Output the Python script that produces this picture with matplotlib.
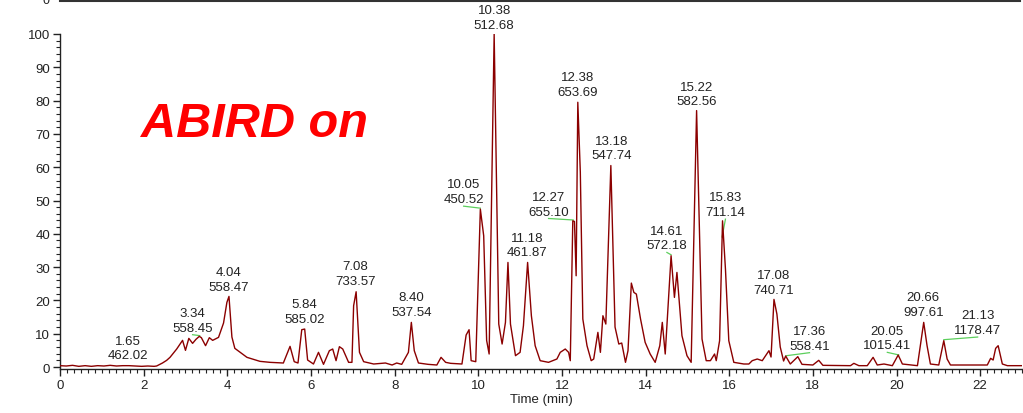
import matplotlib
matplotlib.use("Agg")
import matplotlib.pyplot as plt
from matplotlib.ticker import MultipleLocator
from matplotlib.lines import Line2D
import numpy as np

plt.rcParams["font.family"] = ["Liberation Sans", "DejaVu Sans"]

# chromatogram trace (time in min, relative abundance)
time = [0.00, 0.15, 0.30, 0.45, 0.60, 0.75, 0.90, 1.05, 1.20, 1.35, 1.50, 1.65, 1.80, 1.95,
        2.10, 2.25, 2.31, 2.45, 2.55, 2.63, 2.79, 2.93, 3.00, 3.08, 3.17, 3.25, 3.33, 3.38,
        3.48, 3.57, 3.65, 3.79, 3.91, 3.99, 4.04, 4.11, 4.18, 4.47, 4.78, 5.02, 5.34, 5.50,
        5.60, 5.69, 5.78, 5.85, 5.92, 6.06, 6.18, 6.30, 6.44, 6.52, 6.60, 6.68, 6.76, 6.90,
        6.98, 7.02, 7.08, 7.16, 7.26, 7.50, 7.78, 7.94, 8.05, 8.17, 8.33, 8.40, 8.47, 8.57,
        8.80, 9.01, 9.11, 9.22, 9.34, 9.61, 9.71, 9.78, 9.83, 9.94, 10.05, 10.13, 10.20, 10.26,
        10.38, 10.49, 10.57, 10.65, 10.71, 10.77, 10.89, 11.00, 11.08, 11.18, 11.27, 11.36,
        11.48, 11.68, 11.88, 11.96, 12.08, 12.16, 12.20, 12.26, 12.30, 12.34, 12.38, 12.44,
        12.50, 12.60, 12.70, 12.76, 12.86, 12.92, 12.98, 13.05, 13.17, 13.27, 13.36, 13.43,
        13.52, 13.58, 13.66, 13.72, 13.78, 13.88, 13.99, 14.11, 14.23, 14.34, 14.40, 14.47,
        14.61, 14.69, 14.75, 14.87, 14.99, 15.09, 15.22, 15.35, 15.45, 15.55, 15.65, 15.69,
        15.77, 15.84, 15.91, 15.99, 16.11, 16.35, 16.47, 16.55, 16.67, 16.79, 16.95, 17.00,
        17.07, 17.14, 17.22, 17.30, 17.35, 17.46, 17.64, 17.74, 18.00, 18.14, 18.24, 18.90,
        18.98, 19.10, 19.30, 19.44, 19.54, 19.70, 19.90, 20.04, 20.14, 20.50, 20.65, 20.73,
        20.81, 21.01, 21.13, 21.21, 21.29, 22.17, 22.25, 22.31, 22.37, 22.43, 22.53, 22.65,
        23.00]
intensity = [0.4, 0.3, 0.5, 0.2, 0.4, 0.2, 0.4, 0.3, 0.5, 0.3, 0.4, 0.4, 0.3, 0.2,
             0.3, 0.2, 0.3, 1.2, 2.0, 2.9, 5.4, 8.0, 5.0, 8.6, 7.1, 8.3, 9.2, 8.8,
             6.4, 8.8, 8.0, 8.9, 13.2, 19.4, 21.2, 9.0, 5.6, 2.9, 1.7, 1.4, 1.2, 6.2,
             1.6, 1.2, 11.2, 11.4, 2.1, 0.9, 4.4, 0.8, 4.9, 5.4, 1.9, 6.1, 5.4, 1.4,
             1.4, 18.4, 22.6, 4.4, 1.6, 0.9, 1.2, 0.6, 1.2, 0.8, 4.4, 13.4, 4.9, 1.2,
             0.8, 0.6, 2.9, 1.4, 1.1, 0.9, 9.6, 11.2, 1.9, 1.6, 47.4, 39.4, 8.0, 3.9,
             100.0, 12.9, 6.9, 13.4, 31.4, 12.9, 3.4, 4.4, 12.4, 31.4, 15.4, 6.4,
             1.9, 1.4, 2.4, 4.4, 5.4, 4.4, 1.9, 43.9, 43.7, 27.4, 79.5, 58.5,
             14.4, 6.4, 1.9, 2.4, 10.4, 4.4, 15.4, 12.9, 60.5, 12.0, 6.9, 7.2,
             1.4, 4.9, 25.2, 22.4, 21.9, 14.4, 7.4, 3.9, 1.4, 6.4, 13.4, 3.9,
             33.4, 20.9, 28.4, 9.4, 3.4, 1.4, 77.0, 8.4, 1.9, 1.9, 3.9, 1.9,
             7.9, 43.9, 29.4, 7.9, 1.4, 0.9, 0.9, 1.9, 2.4, 1.9, 4.9, 3.0,
             20.3, 15.9, 6.0, 1.8, 3.3, 0.9, 3.1, 0.8, 0.6, 2.0, 0.5, 0.4,
             1.1, 0.4, 0.4, 2.9, 0.6, 0.9, 0.4, 3.6, 0.9, 0.4, 13.4, 6.4,
             0.9, 0.6, 7.9, 2.4, 0.6, 0.6, 2.6, 2.1, 5.6, 6.4, 0.9, 0.4,
             0.4]

# peak annotations: retention time and m/z
peak_rt = ["1.65", "3.34", "4.04", "5.84", "7.08", "8.40", "10.05", "10.38", "11.18", "12.27",
           "12.38", "13.18", "14.61", "15.22", "15.83", "17.08", "17.36", "20.05", "20.66", "21.13"]
peak_mz = ["462.02", "558.45", "558.47", "585.02", "733.57", "537.54", "450.52", "512.68",
           "461.87", "655.10", "653.69", "547.74", "572.18", "582.56", "711.14", "740.71",
           "558.41", "1015.41", "997.61", "1178.47"]

# where each label text sits (layout), and whether it gets a leader line
label_x = [1.63, 3.17, 4.04, 5.84, 7.06, 8.40, 9.65, 10.38, 11.17, 11.68,
           12.38, 13.18, 14.51, 15.22, 15.91, 17.06, 17.92, 19.78, 20.64, 21.94]
label_y = [5.7, 14.0, 26.3, 16.7, 28.0, 18.7, 52.6, 105.0, 36.6, 48.9,
           84.9, 65.8, 38.7, 82.0, 48.7, 25.4, 8.6, 8.7, 18.7, 13.3]
leader = [False, True, False, False, False, False, True, False, False, True,
          False, False, True, False, True, False, True, True, False, True]

fig = plt.figure(figsize=(10.23, 4.14), dpi=100)
ax = fig.add_axes([60 / 1023, 44 / 414, 962 / 1023, 335 / 414])

ax.plot(time, intensity, color="#8b0000", lw=1.0, zorder=3)

for rt, mz, lx, ly, ld in zip(peak_rt, peak_mz, label_x, label_y, leader):
    ax.text(lx, ly, f"{rt}\n{mz}", ha="center", va="center", fontsize=9.5,
            linespacing=1.3, color="#222222", clip_on=False, zorder=4)
    if ld:
        t = float(rt)
        apex = np.interp(t, time, intensity)
        ax.plot([lx, t], [ly - 4.3, apex + 0.3], color="#5ccf5c", lw=0.9,
                clip_on=False, zorder=2)

ax.text(0.202, 0.732, "ABIRD on", transform=ax.transAxes, color="red",
        fontsize=35, fontweight="bold", fontstyle="italic", ha="center", va="center")

ax.set_xlim(0, 23)
ax.set_ylim(-0.6, 100)
ax.xaxis.set_major_locator(MultipleLocator(2))
ax.xaxis.set_minor_locator(MultipleLocator(2 / 12))
ax.yaxis.set_major_locator(MultipleLocator(10))
ax.yaxis.set_minor_locator(MultipleLocator(2))
ax.tick_params(axis="both", which="major", length=5, width=1, labelsize=9.5, colors="#222222", pad=2)
ax.tick_params(axis="both", which="minor", length=3, width=0.8, colors="#222222")
ax.set_xlabel("Time (min)", fontsize=9.5, color="#222222", labelpad=2)

for s in ("top", "right"):
    ax.spines[s].set_visible(False)
for s in ("left", "bottom"):
    ax.spines[s].set_color("#222222")
    ax.spines[s].set_linewidth(1.0)

# bottom edge of the panel above, cut off in the original
fig.add_artist(Line2D([60 / 1023, 1020 / 1023], [1 - 2 / 414, 1 - 2 / 414],
                      color="#333333", lw=1.5))
fig.text(46 / 1023, 1 - 1 / 414, "0", fontsize=9, ha="center", va="center", color="#222222")

fig.savefig("out.png", dpi=100, facecolor="white")
